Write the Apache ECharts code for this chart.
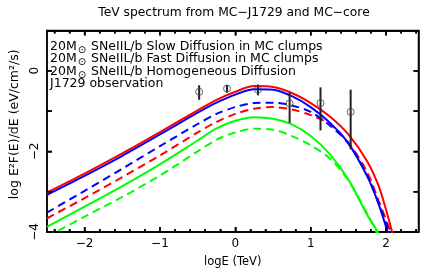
<!DOCTYPE html>
<html><head><meta charset="utf-8">
<script src="https://cdn.jsdelivr.net/npm/echarts@6/dist/echarts.min.js"></script>
<style>html,body{margin:0;padding:0;background:#fff}#c{width:425px;height:273px}</style>
</head><body><div id="c"></div>
<script>
const titleText = 'TeV spectrum from MC\u2212J1729 and MC\u2212core';
const xName = 'logE (TeV)';
const yName = 'log E\u00b2F(E)/dE (eV/cm\u00b2/s)';
const xMajorTicks = [-2, -1, 0, 1, 2];
const xMinorTicks = [-2.4,-2.2,-1.8,-1.6,-1.4,-1.2,-0.8,-0.6,-0.4,-0.2,0.2,0.4,0.6,0.8,1.2,1.4,1.6,1.8,2.2,2.4];
const yTicks = [-3, -2, -1, 0];
const yLabels = [-4, -2, 0];
const legendLines = [
  {pre: '20M', rest: ' SNeIIL/b Slow Diffusion in MC clumps', color: '#0000ff'},
  {pre: '20M', rest: ' SNeIIL/b Fast Diffusion in MC clumps', color: '#00ff00'},
  {pre: '20M', rest: ' SNeIIL/b Homogeneous Diffusion', color: '#ff0000'},
  {pre: '', rest: 'J1729 observation', color: '#000000'}
];
const redSolid = [[-2.5,-3.02],[-2.0,-2.55],[-1.5,-2.05],[-1.0,-1.52],[-0.5,-0.98],[-0.25,-0.72],[0,-0.52],[0.25,-0.38],[0.5,-0.40],[0.75,-0.55],[1.0,-0.80],[1.25,-1.13],[1.5,-1.58],[1.75,-2.25],[1.9,-2.85],[2.0,-3.45],[2.08,-4.0],[2.1,-4.15]];
const blueSolid = [[-2.5,-3.08],[-2.0,-2.61],[-1.5,-2.11],[-1.0,-1.58],[-0.5,-1.04],[-0.25,-0.79],[0,-0.59],[0.25,-0.46],[0.5,-0.47],[0.75,-0.63],[1.0,-0.90],[1.25,-1.28],[1.5,-1.80],[1.75,-2.62],[1.9,-3.30],[2.02,-4.0],[2.04,-4.15]];
const blueDashed = [[-2.5,-3.52],[-2.0,-2.98],[-1.5,-2.43],[-1.0,-1.87],[-0.5,-1.32],[-0.25,-1.07],[0,-0.90],[0.25,-0.80],[0.5,-0.79],[0.75,-0.86],[1.0,-1.02],[1.25,-1.35],[1.5,-1.80],[1.75,-2.60],[1.9,-3.28],[2.04,-4.0],[2.06,-4.15]];
const redDashed = [[-2.5,-3.66],[-2.0,-3.16],[-1.5,-2.64],[-1.0,-2.10],[-0.5,-1.53],[-0.25,-1.27],[0,-1.07],[0.25,-0.94],[0.5,-0.90],[0.75,-0.96],[1.0,-1.10],[1.25,-1.32],[1.5,-1.78],[1.75,-2.52],[1.9,-3.22],[2.06,-4.0],[2.08,-4.15]];
const greenSolid = [[-2.5,-3.87],[-2.0,-3.37],[-1.5,-2.86],[-1.0,-2.32],[-0.5,-1.73],[-0.25,-1.43],[0,-1.24],[0.25,-1.15],[0.5,-1.19],[0.75,-1.33],[1.0,-1.62],[1.25,-2.06],[1.5,-2.70],[1.75,-3.58],[1.89,-4.0],[1.91,-4.15]];
const greenDashed = [[-2.5,-4.12],[-2.0,-3.62],[-1.5,-3.13],[-1.0,-2.60],[-0.5,-2.00],[-0.25,-1.71],[0,-1.53],[0.25,-1.44],[0.5,-1.46],[0.75,-1.62],[1.0,-1.85],[1.25,-2.17],[1.5,-2.72],[1.75,-3.55],[1.87,-4.0],[1.89,-4.15]];
const obsX = [-0.48, -0.11, 0.30, 0.72, 1.13, 1.53];
const obsY = [-0.52, -0.44, -0.47, -0.81, -0.80, -1.02];
const obsLo = [-0.72, -0.54, -0.61, -1.29, -1.48, -1.95];
const obsHi = [-0.36, -0.35, -0.34, -0.54, -0.41, -0.47];

const FONT = 'DejaVu Sans';
const X_MIN = -2.5, X_MAX = 2.43, Y_MIN = -4, Y_MAX = 1;
const chart = echarts.init(document.getElementById('c'), null, {renderer: 'canvas'});
const minus = v => String(v).replace('-', '\u2212');
const GRID = {left: 41.5, right: 6.5, top: 30.5, bottom: 39.5};
const AXLINE = {show: true, onZero: false, lineStyle: {color: '#000', width: 1.5}};
function xAx(pos, ticks, len, labels) {
  return {
    type: 'value', min: X_MIN, max: X_MAX, position: pos,
    axisLine: AXLINE, splitLine: {show: false},
    axisTick: {show: true, inside: true, length: len, customValues: ticks, lineStyle: {color: '#000', width: 1.5}},
    axisLabel: labels ? {show: true, customValues: xMajorTicks, formatter: minus, color: '#000', fontFamily: FONT, fontSize: 12, margin: 6} : {show: false},
    name: labels ? xName : '', nameLocation: 'middle', nameGap: 24,
    nameTextStyle: {color: '#000', fontFamily: FONT, fontSize: 11.5}
  };
}
function yAx(pos, labels) {
  return {
    type: 'value', min: Y_MIN, max: Y_MAX, interval: 1, position: pos,
    axisLine: AXLINE, splitLine: {show: false},
    axisTick: {show: true, inside: true, length: 5, lineStyle: {color: '#000', width: 1.5}},
    axisLabel: labels ? {show: true, customValues: yLabels, rotate: 90, color: '#000', fontFamily: FONT, fontSize: 12, margin: 6, formatter: minus} : {show: false},
    name: labels ? yName : '', nameLocation: 'middle', nameGap: 20, nameRotate: 90,
    nameTextStyle: {color: '#000', fontFamily: FONT, fontSize: 12.5, padding: [0, 0, 0, 14]}
  };
}
function lineSeries(data, color, dashed) {
  return {type: 'line', data: data, xAxisIndex: 0, yAxisIndex: 0, showSymbol: false, smooth: 0.3, clip: true,
    lineStyle: {color: color, width: 2, type: dashed ? [8, 5] : 'solid'}, z: 3, silent: true};
}
function xTickSeries(ticks, len) {
  return {type: 'custom', xAxisIndex: 0, yAxisIndex: 0, z: 8, silent: true, clip: false,
    data: ticks.map(v => [v, Y_MIN]),
    encode: {x: 0, y: 1},
    renderItem: function (params, api) {
      const v = api.value(0);
      const b = api.coord([v, Y_MIN]), t = api.coord([v, Y_MAX]);
      const x = b[0];
      return {type: 'group', children: [
        {type: 'rect', shape: {x: x - 0.75, y: b[1] - len, width: 1.5, height: len}, style: {fill: '#000'}},
        {type: 'rect', shape: {x: x - 0.75, y: t[1], width: 1.5, height: len}, style: {fill: '#000'}}]};
    }};
}
function yTickSeries(ticks, len) {
  return {type: 'custom', xAxisIndex: 0, yAxisIndex: 0, z: 8, silent: true, clip: false,
    data: ticks.map(v => [X_MIN, v]),
    encode: {x: 0, y: 1},
    renderItem: function (params, api) {
      const v = api.value(1);
      const l = api.coord([X_MIN, v]), r = api.coord([X_MAX, v]);
      const y = l[1];
      return {type: 'group', children: [
        {type: 'rect', shape: {x: l[0], y: y - 0.75, width: len, height: 1.5}, style: {fill: '#000'}},
        {type: 'rect', shape: {x: r[0] - len, y: y - 0.75, width: len, height: 1.5}, style: {fill: '#000'}}]};
    }};
}
const legendGraphics = legendLines.map((l, i) => ({
  type: 'text', left: 50, top: 40 + i * 12.4,
  style: {
    text: l.pre ? '{a|' + l.pre + '}{s|\u2299}{a|' + l.rest + '}' : '{a|' + l.rest + '}',
    rich: {
      a: {fontFamily: FONT, fontSize: 12.5, color: l.color, lineHeight: 18, verticalAlign: 'middle'},
      s: {fontFamily: FONT, fontSize: 10, color: l.color, lineHeight: 10, verticalAlign: 'bottom', padding: [0, 1, 0, 1]}
    }
  }
}));
chart.setOption({
  animation: false,
  grid: Object.assign({show: true, borderColor: '#000', borderWidth: 1.5}, GRID),
  xAxis: [xAx('bottom', xMajorTicks, 5, true), xAx('bottom', xMinorTicks, 3, false), xAx('top', xMajorTicks, 5, false), xAx('top', xMinorTicks, 3, false)],
  yAxis: [yAx('left', true), yAx('right', false)],
  graphic: [{type: 'text', x: 234, y: 13, style: {text: titleText, textAlign: 'center', textVerticalAlign: 'middle', fontFamily: FONT, fontSize: 12.3, fill: '#000'}}].concat(legendGraphics),
  series: [
    xTickSeries(xMajorTicks, 5),
    xTickSeries(xMinorTicks, 3),
    yTickSeries(yTicks, 5),
    lineSeries(greenDashed, '#00ff00', true),
    lineSeries(greenSolid, '#00ff00', false),
    lineSeries(redDashed, '#ff0000', true),
    lineSeries(blueDashed, '#0000ff', true),
    lineSeries(blueSolid, '#0000ff', false),
    lineSeries(redSolid, '#ff0000', false),
    {type: 'custom', xAxisIndex: 0, yAxisIndex: 0, z: 4, silent: true,
      data: obsX.map((x, i) => [x, obsLo[i], obsHi[i]]),
      renderItem: function (params, api) {
        const a = api.coord([api.value(0), api.value(1)]);
        const b = api.coord([api.value(0), api.value(2)]);
        return {type: 'line', shape: {x1: a[0], y1: a[1], x2: b[0], y2: b[1]}, style: {stroke: '#222', lineWidth: 2}};
      }},
    {type: 'scatter', xAxisIndex: 0, yAxisIndex: 0, z: 5, silent: true,
      data: obsX.map((x, i) => [x, obsY[i]]), symbol: 'circle', symbolSize: 7,
      itemStyle: {color: 'rgba(0,0,0,0)', borderColor: '#444', borderWidth: 1}}
  ]
});
</script></body></html>
